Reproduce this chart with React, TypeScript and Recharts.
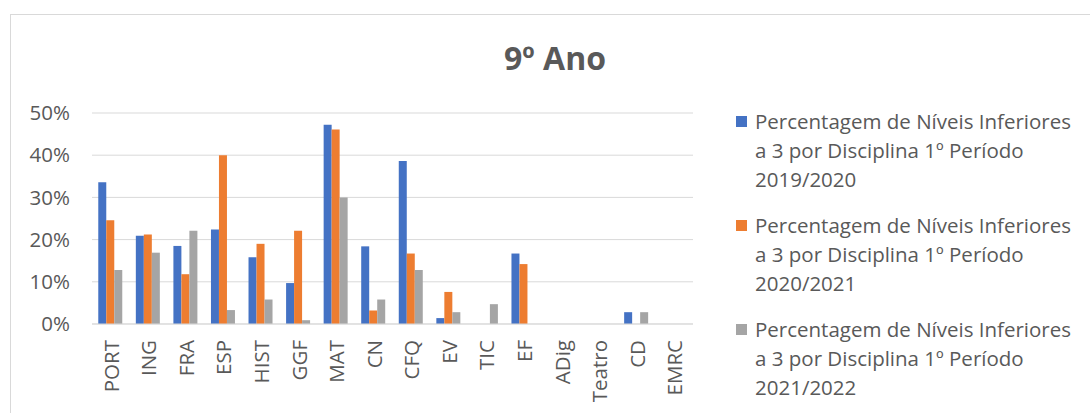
import { BarChart, Bar, XAxis, YAxis, CartesianGrid } from 'recharts';

const subjects = ['PORT', 'ING', 'FRA', 'ESP', 'HIST', 'GGF', 'MAT', 'CN', 'CFQ', 'EV', 'TIC', 'EF', 'ADig', 'Teatro', 'CD', 'EMRC'];

const y2019 = [33.6, 20.9, 18.5, 22.4, 15.8, 9.7, 47.2, 18.4, 38.6, 1.4, 0, 16.7, 0, 0, 2.8, 0];
const y2020 = [24.6, 21.2, 11.8, 40.0, 19.0, 22.1, 46.1, 3.2, 16.7, 7.6, 0, 14.2, 0, 0, 0, 0];
const y2021 = [12.8, 16.9, 22.1, 3.3, 5.8, 0.9, 30.0, 5.8, 12.8, 2.8, 4.7, 0, 0, 0, 2.8, 0];

const yTicks = [0, 10, 20, 30, 40, 50];

const seriesNames = [
  'Percentagem de Níveis Inferiores a 3 por Disciplina 1º Período 2019/2020',
  'Percentagem de Níveis Inferiores a 3 por Disciplina 1º Período 2020/2021',
  'Percentagem de Níveis Inferiores a 3 por Disciplina 1º Período 2021/2022',
];

const colors = ['#4472C4', '#ED7D31', '#A5A5A5'];

const chartData = subjects.map((name, i) => ({
  name,
  a: y2019[i],
  b: y2020[i],
  c: y2021[i],
}));

const FONT = '"Open Sans", sans-serif';
const TEXT = '#595959';

function SubjectTick({ x, y, payload }: any) {
  return (
    <text
      x={x}
      y={y}
      transform={`rotate(-90, ${x}, ${y})`}
      textAnchor="end"
      dominantBaseline="central"
      fill={TEXT}
      fontSize={20.5}
      fontFamily={FONT}
    >
      {payload.value}
    </text>
  );
}

export default function App() {
  return (
    <div style={{ position: 'fixed', left: 0, top: 0, width: 1090, height: 413, background: '#fff', overflow: 'hidden' }}>
      <div
        style={{
          position: 'absolute',
          left: 10,
          top: 14,
          width: 1100,
          height: 420,
          border: '1px solid #D9D9D9',
        }}
      />
      <div
        style={{
          position: 'absolute',
          left: 0,
          top: 36,
          width: 1110,
          textAlign: 'center',
          fontFamily: FONT,
          fontWeight: 700,
          fontSize: 32,
          color: TEXT,
        }}
      >
        9º Ano
      </div>
      <div style={{ position: 'absolute', left: 0, top: 0 }}>
        <BarChart
          width={1090}
          height={413}
          data={chartData}
          margin={{ top: 113, right: 397, bottom: 0, left: 0 }}
          barCategoryGap="16.7%"
          barGap={0}
        >
          <CartesianGrid vertical={false} stroke="#D9D9D9" />
          <XAxis
            dataKey="name"
            interval={0}
            tickLine={false}
            axisLine={{ stroke: '#D9D9D9' }}
            tick={<SubjectTick />}
            tickMargin={10}
            height={89}
          />
          <YAxis
            width={92}
            domain={[0, 50]}
            ticks={yTicks}
            tickFormatter={(v: number) => `${v}%`}
            axisLine={false}
            tickLine={false}
            tickMargin={16}
            tick={{ fill: TEXT, fontSize: 20.5, fontFamily: FONT }}
          />
          <Bar dataKey="a" name={seriesNames[0]} fill={colors[0]} isAnimationActive={false} />
          <Bar dataKey="b" name={seriesNames[1]} fill={colors[1]} isAnimationActive={false} />
          <Bar dataKey="c" name={seriesNames[2]} fill={colors[2]} isAnimationActive={false} />
        </BarChart>
      </div>
      <div
        style={{
          position: 'absolute',
          left: 735,
          top: 107,
          width: 352,
          fontFamily: FONT,
          fontSize: 20.5,
          color: TEXT,
          lineHeight: '29px',
        }}
      >
        {seriesNames.map((s, i) => (
          <div key={s} style={{ position: 'relative', paddingLeft: 20, marginBottom: 17 }}>
            <span
              style={{
                position: 'absolute',
                left: 1,
                top: 9,
                width: 11,
                height: 11,
                background: colors[i],
              }}
            />
            {s}
          </div>
        ))}
      </div>
    </div>
  );
}
